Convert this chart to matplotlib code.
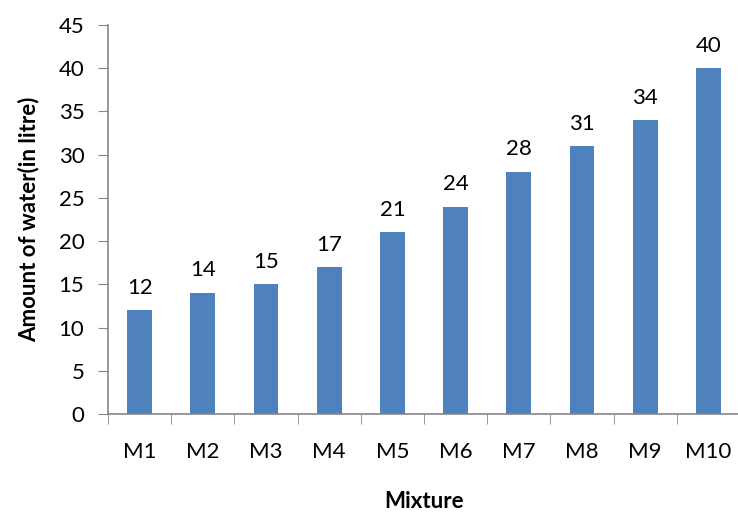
import matplotlib.pyplot as plt
import numpy as np

mixtures = ['M1', 'M2', 'M3', 'M4', 'M5', 'M6', 'M7', 'M8', 'M9', 'M10']
water = [12, 14, 15, 17, 21, 24, 28, 31, 34, 40]

plt.rcParams['font.family'] = ['Lato', 'DejaVu Sans']

fig = plt.figure(figsize=(7.38, 5.15), dpi=100)
ax = fig.add_axes([108 / 738, 101 / 515, 632 / 738, 389 / 515])

x = np.arange(len(mixtures))
ax.bar(x, water, width=0.39, color='#4F81BD', zorder=2)
for xi, v in zip(x, water):
    ax.annotate(str(v), (xi, v), xytext=(0, 9), textcoords='offset points',
                ha='center', va='bottom', fontsize=16, color='black')

ax.set_xlim(-0.5, len(mixtures) - 0.5)
ax.set_ylim(0, 45)
ax.set_yticks(range(0, 46, 5))
ax.tick_params(axis='y', labelsize=16, length=7, color='#868686', pad=10)

# category labels centred, tick marks between categories
ax.set_xticks(x)
ax.set_xticklabels(mixtures, fontsize=16)
ax.tick_params(axis='x', which='major', length=0, pad=20)
ax.set_xticks(np.arange(-0.5, len(mixtures), 1), minor=True)
ax.tick_params(axis='x', which='minor', length=7, color='#868686')

for s in ['top', 'right']:
    ax.spines[s].set_visible(False)
for s in ['left', 'bottom']:
    ax.spines[s].set_color('#868686')
    ax.spines[s].set_linewidth(1.2)

ax.set_ylabel('Amount of water(in litre)', fontsize=16, fontweight='bold', labelpad=14)
ax.set_xlabel('Mixture', fontsize=16, fontweight='bold', labelpad=21)

fig.savefig('out.png', dpi=100)
